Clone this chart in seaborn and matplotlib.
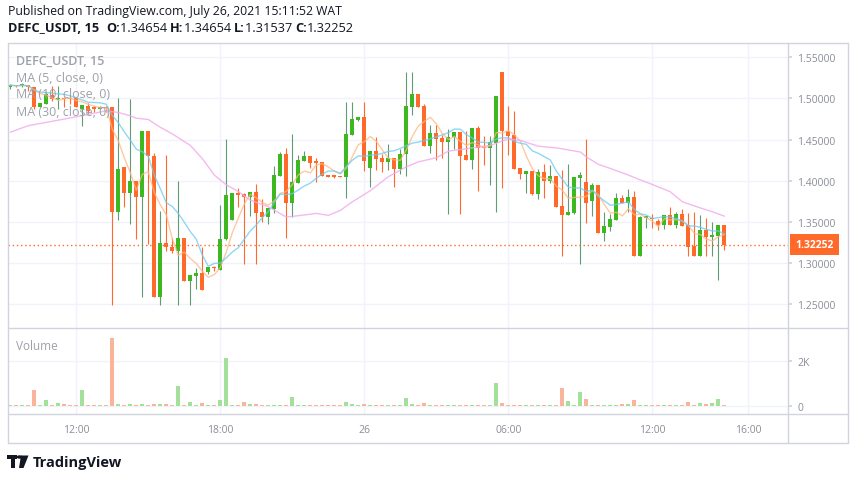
import matplotlib
matplotlib.use("Agg")
import matplotlib.pyplot as plt
import matplotlib.transforms as mtransforms
from matplotlib.lines import Line2D
from matplotlib.patches import Rectangle, Polygon, Circle
import seaborn as sns
import pandas as pd
import numpy as np

# 15-minute bars, 25 Jul 09:15 -> 26 Jul 15:00
opens = [1.5138, 1.5162, 1.5146, 1.5162, 1.5134, 1.4899, 1.4939, 1.5040, 1.4992, 1.4996,
         1.4996, 1.5000, 1.4870, 1.4911, 1.4886, 1.4878, 1.4899, 1.4891, 1.3623, 1.4166,
         1.3854, 1.3992, 1.3805, 1.4603, 1.4303, 1.2590, 1.3242, 1.3190, 1.3149, 1.3303,
         1.2785, 1.2846, 1.2886, 1.2894, 1.2947, 1.2918, 1.3291, 1.3526, 1.3846, 1.3838,
         1.3805, 1.3870, 1.3619, 1.3562, 1.3660, 1.4060, 1.4324, 1.3732, 1.3975, 1.4243,
         1.4299, 1.4235, 1.4226, 1.4069, 1.4060, 1.4060, 1.4048, 1.4559, 1.4741, 1.4773,
         1.4158, 1.4360, 1.4275, 1.4231, 1.4275, 1.4146, 1.4324, 1.4899, 1.5053, 1.4907,
         1.4421, 1.4579, 1.4518, 1.4469, 1.4530, 1.4591, 1.4312, 1.4251, 1.4640, 1.4409,
         1.4401, 1.4461, 1.5320, 1.4603, 1.4554, 1.4154, 1.4085, 1.4117, 1.3842, 1.4105,
         1.3992, 1.4056, 1.3692, 1.3587, 1.3611, 1.4036, 1.3983, 1.3757, 1.3947, 1.3368,
         1.3441, 1.3526, 1.3789, 1.3728, 1.3801, 1.3088, 1.3550, 1.3538, 1.3510, 1.3465,
         1.3583, 1.3465, 1.3595, 1.3465, 1.3206, 1.3088, 1.3400, 1.3319, 1.3331, 1.34654]
highs = [1.5174, 1.5162, 1.5186, 1.5162, 1.5134, 1.4943, 1.5073, 1.5146, 1.5146, 1.5012,
         1.5012, 1.5000, 1.4919, 1.4951, 1.4911, 1.4903, 1.4911, 1.4891, 1.5004, 1.4166,
         1.4992, 1.3992, 1.4603, 1.4603, 1.4332, 1.3631, 1.4312, 1.3303, 1.3992, 1.3303,
         1.2854, 1.2935, 1.3190, 1.2947, 1.2967, 1.3704, 1.4502, 1.3850, 1.3911, 1.3850,
         1.3870, 1.3959, 1.3777, 1.3668, 1.4178, 1.4348, 1.4397, 1.4567, 1.4312, 1.4360,
         1.4299, 1.4275, 1.4226, 1.4069, 1.4073, 1.4060, 1.4955, 1.4955, 1.4773, 1.4955,
         1.4360, 1.4530, 1.4324, 1.4445, 1.4275, 1.4384, 1.5316, 1.5316, 1.5053, 1.4931,
         1.4676, 1.4676, 1.4555, 1.4627, 1.4591, 1.4591, 1.4603, 1.4640, 1.4664, 1.4542,
         1.4542, 1.5028, 1.5320, 1.4907, 1.4846, 1.4154, 1.4117, 1.4117, 1.4141, 1.4202,
         1.4190, 1.4056, 1.4129, 1.4202, 1.4044, 1.4105, 1.4506, 1.3971, 1.3947, 1.3619,
         1.3599, 1.3854, 1.3826, 1.3898, 1.3874, 1.3574, 1.3574, 1.3595, 1.3534, 1.3583,
         1.3680, 1.3619, 1.3656, 1.3607, 1.3619, 1.3583, 1.3546, 1.3501, 1.3461, 1.34654]
lows = [1.5113, 1.5140, 1.5138, 1.5093, 1.4870, 1.4899, 1.4939, 1.4972, 1.4870, 1.4899,
        1.4931, 1.4899, 1.4668, 1.4810, 1.4838, 1.4874, 1.4830, 1.2493, 1.3526, 1.3684,
        1.3477, 1.3287, 1.2590, 1.3230, 1.2590, 1.2493, 1.3149, 1.3129, 1.2493, 1.2785,
        1.2493, 1.2683, 1.2675, 1.2866, 1.2906, 1.2918, 1.3279, 1.3526, 1.3684, 1.2995,
        1.3574, 1.2995, 1.3501, 1.3477, 1.3611, 1.4060, 1.3303, 1.3562, 1.3975, 1.4243,
        1.4158, 1.3983, 1.4056, 1.4048, 1.4036, 1.4048, 1.3793, 1.4559, 1.4729, 1.4121,
        1.3927, 1.4133, 1.4109, 1.4133, 1.3927, 1.4085, 1.4060, 1.4802, 1.4899, 1.4421,
        1.4336, 1.4255, 1.4283, 1.3599, 1.4384, 1.3599, 1.4251, 1.4146, 1.3878, 1.4190,
        1.3951, 1.3623, 1.3915, 1.4316, 1.4146, 1.4024, 1.3854, 1.3830, 1.3781, 1.3793,
        1.3979, 1.3684, 1.3088, 1.3587, 1.3599, 1.2995, 1.3489, 1.3574, 1.3368, 1.3271,
        1.3392, 1.3526, 1.3728, 1.3619, 1.3088, 1.3088, 1.3429, 1.3429, 1.3404, 1.3416,
        1.3465, 1.3429, 1.3453, 1.3088, 1.3088, 1.3088, 1.3088, 1.3088, 1.2797, 1.31537]
closes = [1.5162, 1.5146, 1.5170, 1.5138, 1.4899, 1.4943, 1.5053, 1.4992, 1.5004, 1.4988,
          1.4988, 1.4899, 1.4919, 1.4850, 1.4878, 1.4899, 1.4882, 1.3623, 1.4141, 1.3854,
          1.3992, 1.3805, 1.4603, 1.4303, 1.2590, 1.3242, 1.3190, 1.3149, 1.3303, 1.2785,
          1.2854, 1.2886, 1.2675, 1.2947, 1.2935, 1.3291, 1.3826, 1.3850, 1.3830, 1.3805,
          1.3870, 1.3611, 1.3562, 1.3668, 1.4069, 1.4324, 1.3732, 1.3983, 1.4251, 1.4299,
          1.4218, 1.4218, 1.4056, 1.4048, 1.4052, 1.4048, 1.4567, 1.4749, 1.4773, 1.4243,
          1.4360, 1.4267, 1.4231, 1.4275, 1.4146, 1.4324, 1.4907, 1.5053, 1.4899, 1.4421,
          1.4579, 1.4506, 1.4469, 1.4538, 1.4591, 1.4299, 1.4251, 1.4640, 1.4401, 1.4397,
          1.4469, 1.5028, 1.4603, 1.4546, 1.4146, 1.4085, 1.4117, 1.3842, 1.4105, 1.3992,
          1.4056, 1.3684, 1.3587, 1.3619, 1.4044, 1.4069, 1.3732, 1.3947, 1.3368, 1.3449,
          1.3534, 1.3789, 1.3728, 1.3801, 1.3088, 1.3558, 1.3574, 1.3530, 1.3465, 1.3583,
          1.3465, 1.3595, 1.3453, 1.3198, 1.3088, 1.3400, 1.3319, 1.3340, 1.3461, 1.32252]
volumes = [60, 60, 60, 60, 725, 60, 280, 80, 150, 100,
           70, 60, 725, 60, 60, 60, 60, 3030, 100, 70,
           100, 70, 100, 80, 100, 100, 100, 80, 900, 60,
           190, 80, 150, 80, 60, 280, 2150, 70, 80, 190,
           90, 100, 70, 60, 60, 60, 60, 415, 70, 70,
           70, 70, 70, 60, 70, 60, 190, 120, 60, 100,
           60, 60, 60, 60, 60, 60, 370, 110, 60, 150,
           60, 60, 60, 60, 60, 60, 60, 60, 60, 60,
           60, 1035, 150, 80, 70, 70, 60, 60, 60, 60,
           60, 60, 815, 250, 60, 635, 325, 70, 70, 70,
           60, 70, 100, 100, 280, 70, 70, 60, 60, 60,
           60, 60, 60, 190, 60, 150, 100, 150, 325, 75]

# MA(30) (its window reaches back before the first bar)
ma30_bars = [0, 3, 9, 16, 18, 20, 21, 23, 25, 27, 30, 32, 34, 36, 38, 40, 43, 46, 48, 51,
             53, 55, 57, 60, 63, 66, 68, 71, 73, 75, 78, 80, 83, 85, 88, 91, 95, 96, 98, 100,
             103, 105, 107, 110, 112, 115, 117, 119]
ma30_values = [1.459, 1.467, 1.475, 1.485, 1.483, 1.479, 1.476, 1.4745, 1.465, 1.457,
               1.443, 1.427, 1.407, 1.395, 1.387, 1.3765, 1.3685, 1.356, 1.3576, 1.3604,
               1.358, 1.364, 1.3745, 1.388, 1.405, 1.417, 1.423, 1.428, 1.436, 1.438,
               1.441, 1.443, 1.451, 1.449, 1.442, 1.440, 1.435, 1.429, 1.420, 1.415,
               1.407, 1.401, 1.3955, 1.3866, 1.3745, 1.367, 1.3624, 1.357]

time_ticks = [11, 35, 59, 83, 107, 123]
time_labels = ["12:00", "18:00", "26", "06:00", "12:00", "16:00"]
price_ticks = [1.25, 1.30, 1.35, 1.40, 1.45, 1.50, 1.55]
last_price = 1.32252

UP = "#3DB81F"
DOWN = "#FF6A2B"
UP_WICK = "#5E9C72"
GRID = "#F0F3FA"
FRAME = "#D1D4DC"
LABEL = "#8A8E97"

sns.set_theme(style="white")
plt.rcParams["font.family"] = ["Open Sans", "DejaVu Sans"]

df = pd.DataFrame({"bar": np.arange(len(closes)), "open": opens, "high": highs,
                   "low": lows, "close": closes, "volume": volumes})
df["up"] = df["close"] >= df["open"]
df["ma5"] = df["close"].rolling(5, min_periods=1).mean()
df["ma10"] = df["close"].rolling(10, min_periods=1).mean()

W, H = 854, 481
fig = plt.figure(figsize=(W / 100, H / 100), dpi=100)


def fx(px):
    return px / W


def fy(py):
    return 1 - py / H


ax = fig.add_axes([fx(8), fy(328), fx(788) - fx(8), fy(44) - fy(328)])
axv = fig.add_axes([fx(8), fy(415), fx(788) - fx(8), fy(328) - fy(415)], sharex=ax)

# candles
wick_colors = np.where(df["up"], UP_WICK, DOWN)
body_colors = np.where(df["up"], UP, DOWN)
ax.vlines(df["bar"], df["low"], df["high"], colors=wick_colors, lw=0.8, zorder=2)
body_h = (df["close"] - df["open"]).abs().clip(lower=0.0013)
body_bottom = df[["open", "close"]].min(axis=1)
ax.bar(df["bar"], body_h, bottom=body_bottom, width=0.7, color=body_colors, lw=0, zorder=3)

# moving averages
sns.lineplot(data=df, x="bar", y="ma5", ax=ax, color="#FFB880", lw=1.0, alpha=0.75, zorder=4)
sns.lineplot(data=df, x="bar", y="ma10", ax=ax, color="#6CCAF0", lw=1.0, alpha=0.75, zorder=4)
sns.lineplot(x=ma30_bars, y=ma30_values, ax=ax, color="#F2A8EC", lw=1.0, alpha=0.8, zorder=4)

# last price line + label
ax.axhline(last_price, color=DOWN, lw=1, ls=(0, (1, 2)), zorder=1)
blend = mtransforms.blended_transform_factory(ax.transAxes, ax.transData)
ax.text(1.0 + 7 / 780, last_price, f"{last_price:.5f}", transform=blend, color="white",
        fontsize=7.5, fontweight="bold", va="center", ha="left", clip_on=False,
        bbox=dict(boxstyle="square,pad=0.5", fc=DOWN, ec="none"))

ax.set_xlim(-0.38, 129.6)
ax.set_ylim(1.2224, 1.5674)
ax.set_yticks(price_ticks)
ax.set_yticklabels([f"{p:.5f}" for p in price_ticks])
ax.yaxis.tick_right()
ax.tick_params(axis="y", length=3, color=FRAME, labelcolor=LABEL, labelsize=7.5, pad=3.5)
ax.set_xticks(time_ticks)
ax.tick_params(axis="x", length=0, labelbottom=False)
ax.grid(True, color=GRID, lw=1)
ax.set_axisbelow(True)
ax.set_xlabel("")
ax.set_ylabel("")

# volume
vol_colors = np.where(df["up"], "#A3E09A", "#FBB49C")
axv.bar(df["bar"], df["volume"], width=0.7, color=vol_colors, lw=0, zorder=3)
axv.set_ylim(-342, 3524)
axv.set_yticks([0, 2000])
axv.set_yticklabels(["0", "2K"])
axv.yaxis.tick_right()
axv.tick_params(axis="y", length=3, color=FRAME, labelcolor=LABEL, labelsize=7.5, pad=3.5)
axv.set_xticks(time_ticks)
axv.set_xticklabels(time_labels)
axv.tick_params(axis="x", length=2.5, color=FRAME, labelcolor=LABEL, labelsize=7.5, pad=5)
axv.grid(True, color=GRID, lw=1)
axv.set_axisbelow(True)

for a in (ax, axv):
    for s in a.spines.values():
        s.set_visible(False)


def hline(y, x0, x1):
    fig.add_artist(Line2D([fx(x0), fx(x1)], [fy(y), fy(y)], color=FRAME, lw=1))


def vline(x, y0, y1):
    fig.add_artist(Line2D([fx(x), fx(x)], [fy(y0), fy(y1)], color=FRAME, lw=1))


hline(44, 8, 848)
hline(328.5, 8, 848)
hline(415, 8, 848)
hline(444, 8, 848)
vline(8, 44, 444)
vline(848, 44, 444)
vline(788, 44, 444)

# pane legends
leg = "#9EA1AA"
fig.text(fx(16), fy(61), "DEFC_USDT, 15", color=leg, fontsize=9, fontweight="semibold", va="center")
fig.text(fx(16), fy(78), "MA (5, close, 0)", color=leg, fontsize=9, va="center")
fig.text(fx(16), fy(95), "MA (10, close, 0)", color=leg, fontsize=9, va="center")
fig.text(fx(16), fy(112), "MA (30, close, 0)", color=leg, fontsize=9, va="center")
fig.text(fx(16), fy(346), "Volume", color=leg, fontsize=8.5, va="center")

# header
INK = "#131722"
fig.text(fx(8), fy(12), "Published on TradingView.com, July 26, 2021 15:11:52 WAT",
         color=INK, fontsize=8.8, va="center")
renderer = fig.canvas.get_renderer()
x = fx(8)
pieces = [("DEFC_USDT, 15  ", "bold"), ("O:", "bold"), ("1.34654 ", "normal"),
          ("H:", "bold"), ("1.34654 ", "normal"), ("L:", "bold"), ("1.31537 ", "normal"),
          ("C:", "bold"), ("1.32252", "normal")]
for txt, wt in pieces:
    t = fig.text(x, fy(29), txt, color=INK, fontsize=9.2, fontweight=wt, va="center")
    bb = t.get_window_extent(renderer=renderer)
    x += bb.width / W

# footer logo
fig.add_artist(Rectangle((fx(7), fy(459.5)), fx(10), 3.2 / H, fc=INK, ec="none"))
fig.add_artist(Rectangle((fx(11), fy(469)), fx(4.2), 12.5 / H, fc=INK, ec="none"))
fig.add_artist(Circle((fx(19.6), fy(458)), 1.7 / H, fc=INK, ec="none",
                      transform=fig.transFigure))
fig.add_artist(Polygon([(fx(21), fy(456.5)), (fx(28.5), fy(456.5)), (fx(23.5), fy(469)),
                        (fx(19), fy(469))], closed=True, fc=INK, ec="none"))
fig.text(fx(33), fy(463), "TradingView", color=INK, fontsize=10.5, fontweight="bold",
         va="center")

fig.savefig("out.png", dpi=100)
